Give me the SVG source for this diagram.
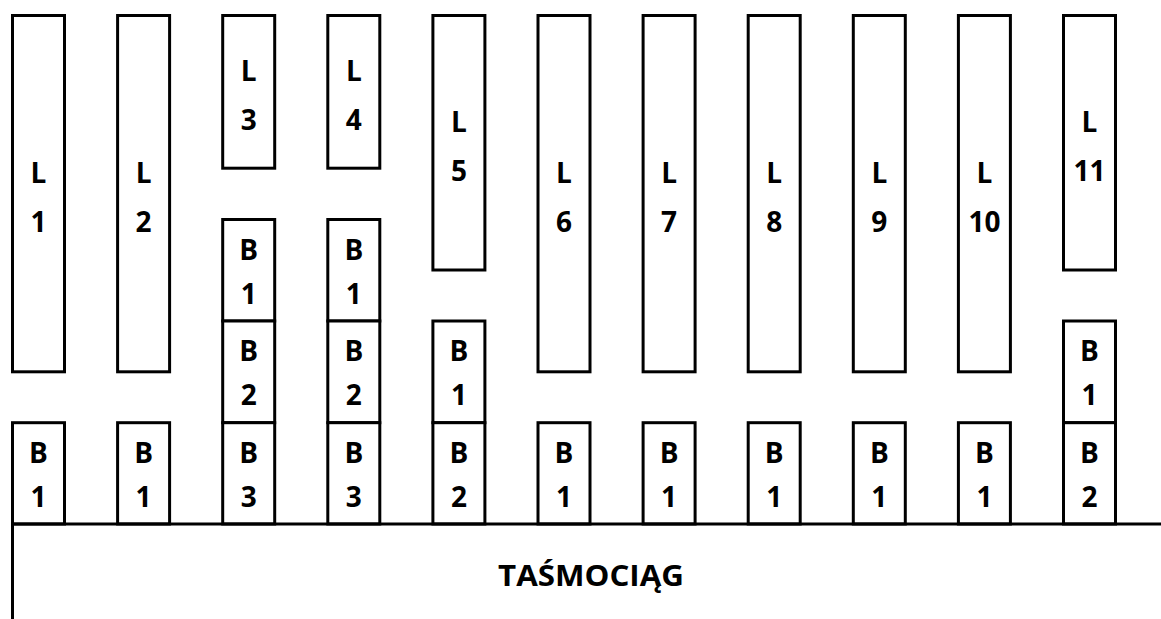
<svg xmlns="http://www.w3.org/2000/svg" width="1161" height="619" viewBox="0 0 1161 619">
<style>
.box{fill:#fff;stroke:#000;stroke-width:3}
.t{font-family:"Open Sans","Liberation Sans",sans-serif;font-weight:bold;font-size:28px;fill:#000;text-anchor:middle}
.title{font-size:29px}
.ln{stroke:#000;stroke-width:3;fill:none}
</style>
<rect width="1161" height="619" fill="#fff"/>
<!-- L racks: columns x = 12.5 + 105.1*i, width 52 -->
<g id="L1"><rect class="box" x="12.5" y="15.5" width="52" height="356.3"/><text class="t" x="38.5" y="182.6">L</text><text class="t" x="38.5" y="231.6">1</text></g>
<g id="L2"><rect class="box" x="117.6" y="15.5" width="52" height="356.3"/><text class="t" x="143.6" y="182.6">L</text><text class="t" x="143.6" y="231.6">2</text></g>
<g id="L3"><rect class="box" x="222.7" y="15.5" width="52" height="152.7"/><text class="t" x="248.7" y="80.5">L</text><text class="t" x="248.7" y="129.5">3</text></g>
<g id="L4"><rect class="box" x="327.8" y="15.5" width="52" height="152.7"/><text class="t" x="353.8" y="80.5">L</text><text class="t" x="353.8" y="129.5">4</text></g>
<g id="L5"><rect class="box" x="432.9" y="15.5" width="52" height="254.5"/><text class="t" x="458.9" y="131.5">L</text><text class="t" x="458.9" y="180.5">5</text></g>
<g id="L6"><rect class="box" x="538" y="15.5" width="52" height="356.3"/><text class="t" x="564" y="182.6">L</text><text class="t" x="564" y="231.6">6</text></g>
<g id="L7"><rect class="box" x="643.1" y="15.5" width="52" height="356.3"/><text class="t" x="669.1" y="182.6">L</text><text class="t" x="669.1" y="231.6">7</text></g>
<g id="L8"><rect class="box" x="748.2" y="15.5" width="52" height="356.3"/><text class="t" x="774.2" y="182.6">L</text><text class="t" x="774.2" y="231.6">8</text></g>
<g id="L9"><rect class="box" x="853.3" y="15.5" width="52" height="356.3"/><text class="t" x="879.3" y="182.6">L</text><text class="t" x="879.3" y="231.6">9</text></g>
<g id="L10"><rect class="box" x="958.4" y="15.5" width="52" height="356.3"/><text class="t" x="984.4" y="182.6">L</text><text class="t" x="984.4" y="231.6">10</text></g>
<g id="L11"><rect class="box" x="1063.5" y="15.5" width="52" height="254.5"/><text class="t" x="1089.5" y="131.5">L</text><text class="t" x="1089.5" y="180.5">11</text></g>
<!-- stacked B boxes -->
<g id="c3-B1"><rect class="box" x="222.7" y="219.5" width="52" height="101.5"/><text class="t" x="248.7" y="259.5">B</text><text class="t" x="248.7" y="303.5">1</text></g>
<g id="c3-B2"><rect class="box" x="222.7" y="321" width="52" height="101.7"/><text class="t" x="248.7" y="361">B</text><text class="t" x="248.7" y="405">2</text></g>
<g id="c4-B1"><rect class="box" x="327.8" y="219.5" width="52" height="101.5"/><text class="t" x="353.8" y="259.5">B</text><text class="t" x="353.8" y="303.5">1</text></g>
<g id="c4-B2"><rect class="box" x="327.8" y="321" width="52" height="101.7"/><text class="t" x="353.8" y="361">B</text><text class="t" x="353.8" y="405">2</text></g>
<g id="c5-B1"><rect class="box" x="432.9" y="321" width="52" height="101.7"/><text class="t" x="458.9" y="361">B</text><text class="t" x="458.9" y="405">1</text></g>
<g id="c11-B1"><rect class="box" x="1063.5" y="321" width="52" height="101.7"/><text class="t" x="1089.5" y="361">B</text><text class="t" x="1089.5" y="405">1</text></g>
<!-- bottom row B boxes -->
<g id="c1-B1"><rect class="box" x="12.5" y="422.7" width="52" height="101.3"/><text class="t" x="38.5" y="462.7">B</text><text class="t" x="38.5" y="506.7">1</text></g>
<g id="c2-B1"><rect class="box" x="117.6" y="422.7" width="52" height="101.3"/><text class="t" x="143.6" y="462.7">B</text><text class="t" x="143.6" y="506.7">1</text></g>
<g id="c3-B3"><rect class="box" x="222.7" y="422.7" width="52" height="101.3"/><text class="t" x="248.7" y="462.7">B</text><text class="t" x="248.7" y="506.7">3</text></g>
<g id="c4-B3"><rect class="box" x="327.8" y="422.7" width="52" height="101.3"/><text class="t" x="353.8" y="462.7">B</text><text class="t" x="353.8" y="506.7">3</text></g>
<g id="c5-B2"><rect class="box" x="432.9" y="422.7" width="52" height="101.3"/><text class="t" x="458.9" y="462.7">B</text><text class="t" x="458.9" y="506.7">2</text></g>
<g id="c6-B1"><rect class="box" x="538" y="422.7" width="52" height="101.3"/><text class="t" x="564" y="462.7">B</text><text class="t" x="564" y="506.7">1</text></g>
<g id="c7-B1"><rect class="box" x="643.1" y="422.7" width="52" height="101.3"/><text class="t" x="669.1" y="462.7">B</text><text class="t" x="669.1" y="506.7">1</text></g>
<g id="c8-B1"><rect class="box" x="748.2" y="422.7" width="52" height="101.3"/><text class="t" x="774.2" y="462.7">B</text><text class="t" x="774.2" y="506.7">1</text></g>
<g id="c9-B1"><rect class="box" x="853.3" y="422.7" width="52" height="101.3"/><text class="t" x="879.3" y="462.7">B</text><text class="t" x="879.3" y="506.7">1</text></g>
<g id="c10-B1"><rect class="box" x="958.4" y="422.7" width="52" height="101.3"/><text class="t" x="984.4" y="462.7">B</text><text class="t" x="984.4" y="506.7">1</text></g>
<g id="c11-B2"><rect class="box" x="1063.5" y="422.7" width="52" height="101.3"/><text class="t" x="1089.5" y="462.7">B</text><text class="t" x="1089.5" y="506.7">2</text></g>
<!-- conveyor -->
<g id="conveyor">
<path class="ln" d="M12.5,619 V524 H1161"/>
<text class="t title" x="591" y="586" textLength="186" lengthAdjust="spacingAndGlyphs">TAŚMOCIĄG</text>
</g>
</svg>
